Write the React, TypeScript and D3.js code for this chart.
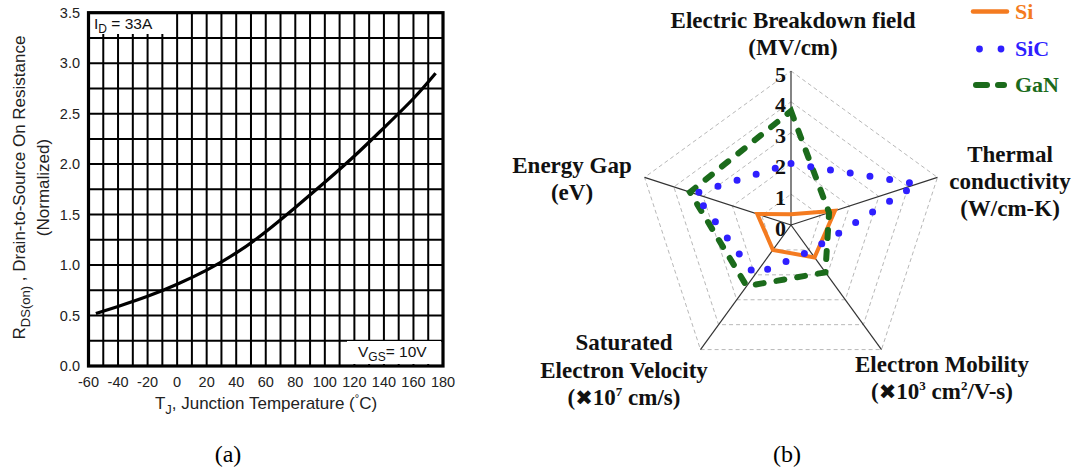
import React from "react";
import * as d3 from "d3";

// (a) normalized on-resistance vs junction temperature
const tempC = [-55, -40, -20, 0, 20, 40, 60, 80, 100, 120, 140, 160, 175];
const rdsNorm = [0.52, 0.59, 0.69, 0.81, 0.95, 1.12, 1.33, 1.57, 1.82, 2.08, 2.36, 2.65, 2.9];
const xTicks = [-60, -40, -20, 0, 20, 40, 60, 80, 100, 120, 140, 160, 180];
const yTicks = [0, 0.5, 1, 1.5, 2, 2.5, 3, 3.5];

// (b) material properties radar
const radarAxes = [
  "Electric Breakdown field",
  "Thermal conductivity",
  "Electron Mobility",
  "Saturated Electron Velocity",
  "Energy Gap",
];
const siValues = [0.35, 1.5, 1.3, 1.0, 1.15];
const sicValues = [2.0, 4.3, 1.05, 2.0, 3.3];
const ganValues = [3.7, 1.3, 1.9, 2.45, 3.45];
const radarLevels = [1, 2, 3, 4, 5];
const levelLabels = [0, 1, 2, 3, 4, 5];

const SANS = "'Liberation Sans', Arial, Helvetica, sans-serif";
const SERIF = "'Liberation Serif', 'Times New Roman', serif";
const ORANGE = "#f47b20";
const BLUE = "#2f1fff";
const GREEN = "#1b6b1b";

function LeftChart() {
  const x = d3.scaleLinear().domain([-60, 180]).range([88.5, 443]);
  const y = d3.scaleLinear().domain([0, 3.5]).range([366, 12.7]);
  const vGrid = d3.range(-60, 181, 10);
  const hGrid = d3.range(0, 3.51, 0.25);
  const line = d3
    .line<number>()
    .x((_, i) => x(tempC[i]))
    .y((d) => y(d))
    .curve(d3.curveNatural);

  return (
    <g fontFamily={SANS}>
      {vGrid.map((t) => (
        <line key={"v" + t} x1={x(t)} x2={x(t)} y1={y(0)} y2={y(3.5)} stroke="#000" strokeWidth={2} />
      ))}
      {hGrid.map((v) => (
        <line key={"h" + v} x1={x(-60)} x2={x(180)} y1={y(v)} y2={y(v)} stroke="#000" strokeWidth={2} />
      ))}
      {/* label boxes */}
      <rect x={90} y={14} width={83} height={20} fill="#fff" />
      <rect x={347} y={341} width={94} height={23} fill="#fff" />
      <text x={94} y={29} fontSize={15.5} fill="#111">
        I<tspan fontSize={12} dy={4}>D</tspan>
        <tspan dy={-4}> = 33A</tspan>
      </text>
      <text x={358} y={357} fontSize={15.5} fill="#111">
        V<tspan fontSize={12} dy={4}>GS</tspan>
        <tspan dy={-4}>= 10V</tspan>
      </text>
      <path d={line(rdsNorm) || ""} fill="none" stroke="#000" strokeWidth={3.2} />
      <rect
        x={x(-60)}
        y={y(3.5)}
        width={x(180) - x(-60)}
        height={y(0) - y(3.5)}
        fill="none"
        stroke="#000"
        strokeWidth={3.2}
      />
      {yTicks.map((v) => (
        <text key={"yt" + v} x={80} y={y(v)} fontSize={14.5} textAnchor="end" dominantBaseline="central" fill="#222">
          {v.toFixed(1)}
        </text>
      ))}
      {xTicks.map((t) => (
        <text key={"xt" + t} x={x(t)} y={386.5} fontSize={14.5} textAnchor="middle" fill="#222">
          {t}
        </text>
      ))}
      <text x={266} y={408.5} fontSize={17} textAnchor="middle" fill="#222">
        T<tspan fontSize={13} dy={5}>J</tspan>
        <tspan dy={-5}>, Junction Temperature  (</tspan>
        <tspan fontSize={11} dy={-7}>°</tspan>
        <tspan dy={7}>C)</tspan>
      </text>
      <g transform="translate(25,187.5) rotate(-90)">
        <text x={0} y={0} fontSize={17} textAnchor="middle" fill="#222">
          R<tspan fontSize={13} dy={5}>DS(on)</tspan>
          <tspan dy={-5}>  , Drain-to-Source On Resistance</tspan>
        </text>
      </g>
      <g transform="translate(48.5,187.5) rotate(-90)">
        <text x={0} y={0} fontSize={17} textAnchor="middle" fill="#222">
          (Normalized)
        </text>
      </g>
      <text x={228} y={462} fontSize={24} fontFamily={SERIF} textAnchor="middle" fill="#000">
        (a)
      </text>
    </g>
  );
}

function RadarChart() {
  const cx = 791;
  const cy = 225;
  const r = d3.scaleLinear().domain([0, 5]).range([0, 154]);
  const angle = (i: number) => (i * 2 * Math.PI) / radarAxes.length;
  const pt = (i: number, v: number): [number, number] => [
    cx + r(v) * Math.sin(angle(i)),
    cy - r(v) * Math.cos(angle(i)),
  ];
  const poly = (vals: number[]) => {
    const ln = d3
      .line<number>()
      .x((v, i) => pt(i, v)[0])
      .y((v, i) => pt(i, v)[1])
      .curve(d3.curveLinearClosed);
    return ln(vals) || "";
  };
  const ring = (lv: number) => poly(radarAxes.map(() => lv));

  const bold = { fontFamily: SERIF, fontWeight: 700 as const, fontSize: 23, fill: "#111" };

  return (
    <g>
      {radarLevels.map((lv) => (
        <path key={"ring" + lv} d={ring(lv)} fill="none" stroke="#b8b8b8" strokeWidth={1} strokeDasharray="4 3" />
      ))}
      {radarAxes.map((a, i) => {
        const [ex, ey] = pt(i, 5);
        return <line key={a} x1={cx} y1={cy} x2={ex} y2={ey} stroke="#333" strokeWidth={1.2} />;
      })}
      {levelLabels.map((lv) => (
        <text
          key={"lv" + lv}
          x={786}
          y={cy - r(lv) + 3}
          textAnchor="end"
          dominantBaseline="central"
          {...bold}
          fontSize={22}
        >
          {lv}
        </text>
      ))}
      <path d={poly(siValues)} fill="none" stroke={ORANGE} strokeWidth={4} strokeLinejoin="miter" />
      <path
        d={poly(ganValues)}
        fill="none"
        stroke={GREEN}
        strokeWidth={6}
        strokeLinecap="round"
        strokeDasharray="8 13"
      />
      <path
        d={poly(sicValues)}
        fill="none"
        stroke={BLUE}
        strokeWidth={7}
        strokeLinecap="round"
        strokeDasharray="0 20"
      />

      {/* axis titles */}
      <text x={793} y={28} textAnchor="middle" {...bold}>Electric Breakdown field</text>
      <text x={793} y={55} textAnchor="middle" {...bold}>(MV/cm)</text>

      <text x={1010} y={162} textAnchor="middle" {...bold}>Thermal</text>
      <text x={1010} y={189} textAnchor="middle" {...bold}>conductivity</text>
      <text x={1010} y={216} textAnchor="middle" {...bold}>(W/cm-K)</text>

      <text x={942} y={372} textAnchor="middle" {...bold}>Electron Mobility</text>
      <text x={942} y={399} textAnchor="middle" {...bold}>
        (<tspan fontFamily="'DejaVu Sans'" fontSize={21}>✖</tspan>10
        <tspan fontSize={13} dy={-9}>3</tspan>
        <tspan dy={9}> cm</tspan>
        <tspan fontSize={13} dy={-9}>2</tspan>
        <tspan dy={9}>/V-s)</tspan>
      </text>

      <text x={624} y={350} textAnchor="middle" {...bold}>Saturated</text>
      <text x={624} y={378} textAnchor="middle" {...bold}>Electron Velocity</text>
      <text x={624} y={405} textAnchor="middle" {...bold}>
        (<tspan fontFamily="'DejaVu Sans'" fontSize={21}>✖</tspan>10
        <tspan fontSize={13} dy={-9}>7</tspan>
        <tspan dy={9}> cm/s)</tspan>
      </text>

      <text x={572} y={173} textAnchor="middle" {...bold}>Energy Gap</text>
      <text x={572} y={200} textAnchor="middle" {...bold}>(eV)</text>

      {/* legend */}
      <line x1={973} x2={1007} y1={11.5} y2={11.5} stroke={ORANGE} strokeWidth={4.5} strokeLinecap="round" />
      <text x={1015} y={19} {...bold} fontSize={22} fill={ORANGE}>Si</text>
      <circle cx={979.5} cy={49} r={3.4} fill={BLUE} />
      <circle cx={1001} cy={49} r={3.4} fill={BLUE} />
      <text x={1015} y={56} {...bold} fontSize={22} fill={BLUE}>SiC</text>
      <line x1={976} x2={987} y1={85} y2={85} stroke={GREEN} strokeWidth={6} strokeLinecap="round" />
      <line x1={998} x2={1004} y1={85} y2={85} stroke={GREEN} strokeWidth={6} strokeLinecap="round" />
      <text x={1015} y={92} {...bold} fontSize={22} fill={GREEN}>GaN</text>

      <text x={787} y={462} fontSize={24} fontFamily={SERIF} textAnchor="middle" fill="#000">
        (b)
      </text>
    </g>
  );
}

export default function App() {
  return (
    <svg width={1075} height={470} style={{ position: "absolute", left: 0, top: 0, background: "#fff" }}>
      <rect width={1075} height={470} fill="#fff" />
      <LeftChart />
      <RadarChart />
    </svg>
  );
}
